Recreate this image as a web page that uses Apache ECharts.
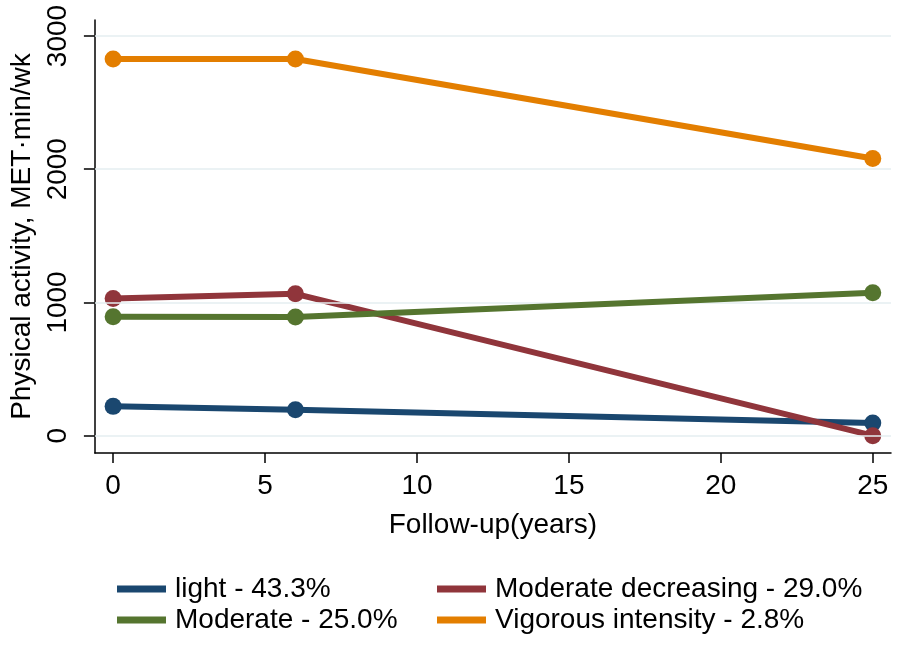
<!DOCTYPE html>
<html>
<head>
<meta charset="utf-8">
<script src="https://cdn.jsdelivr.net/npm/echarts@6/dist/echarts.min.js"></script>
<style>html,body{margin:0;padding:0;background:#fff}#c{width:900px;height:645px}</style>
</head>
<body>
<div id="c"></div>
<script>
const years = [0, 6, 25];
const light = [220, 195, 95];
const modDecreasing = [1030, 1065, 0];
const moderate = [892, 890, 1073];
const vigorous = [2827, 2827, 2080];
const seriesNames = ['light - 43.3%', 'Moderate decreasing - 29.0%', 'Moderate - 25.0%', 'Vigorous intensity - 2.8%'];
const colors = ['#1a476f', '#90353b', '#55752f', '#e37e00'];
const xTicks = [0, 5, 10, 15, 20, 25];
const yTicks = [0, 1000, 2000, 3000];

const FONT = 'Liberation Sans, Arial, sans-serif';
const chart = echarts.init(document.getElementById('c'), null, {renderer: 'canvas'});
const datasets = [light, modDecreasing, moderate, vigorous];
const series = datasets.map((d, i) => ({
  name: seriesNames[i],
  type: 'line',
  data: years.map((y, j) => [y, d[j]]),
  symbol: 'circle',
  symbolSize: 17,
  lineStyle: {width: 6, color: colors[i]},
  itemStyle: {color: colors[i]},
  z: 3 + i,
  animation: false
}));
series.unshift({
  name: 'grid',
  type: 'line',
  data: [],
  silent: true,
  markLine: {
    silent: true,
    symbol: 'none',
    label: {show: false},
    lineStyle: {color: '#e4eef0', width: 1.5, type: 'solid'},
    data: yTicks.map(v => ({yAxis: v}))
  },
  z: 1
});
const legendItem = (names, left) => ({
  orient: 'vertical',
  left: left,
  top: 570,
  itemWidth: 49,
  itemHeight: 7,
  itemGap: 3,
  icon: 'rect',
  data: names.map(n => ({name: n, icon: 'rect'})),
  textStyle: {fontSize: 28, color: '#000', fontFamily: FONT, padding: [0, 0, 0, 4]},
  selectedMode: false
});
chart.setOption({
  animation: false,
  color: colors,
  grid: {left: 93, right: 9, top: 20, bottom: 192, containLabel: false},
  legend: [
    legendItem([seriesNames[0], seriesNames[2]], 112),
    legendItem([seriesNames[1], seriesNames[3]], 432)
  ],
  xAxis: {
    type: 'value',
    min: -0.6,
    max: 25.6,
    name: 'Follow-up(years)',
    nameLocation: 'middle',
    nameGap: 58,
    nameTextStyle: {fontSize: 28, color: '#000', fontFamily: FONT},
    axisLine: {show: true, onZero: false, lineStyle: {color: '#000', width: 1.5}},
    axisTick: {show: true, length: 10, lineStyle: {color: '#000', width: 1.5}, customValues: xTicks},
    axisLabel: {fontSize: 28, color: '#000', fontFamily: FONT, margin: 19, customValues: xTicks},
    splitLine: {show: false}
  },
  yAxis: {
    type: 'value',
    min: -130,
    max: 3120,
    name: 'Physical activity, MET·min/wk',
    nameLocation: 'middle',
    nameRotate: 90,
    nameGap: 56,
    nameTextStyle: {fontSize: 28, color: '#000', fontFamily: FONT},
    axisLine: {show: true, onZero: false, lineStyle: {color: '#000', width: 1.5}},
    axisTick: {show: true, length: 11, lineStyle: {color: '#000', width: 1.5}, customValues: yTicks},
    axisLabel: {fontSize: 28, color: '#000', fontFamily: FONT, rotate: 90, margin: 23, customValues: yTicks,
      formatter: v => String(v)},
    splitLine: {show: false}
  },
  series: series
});
</script>
</body>
</html>
